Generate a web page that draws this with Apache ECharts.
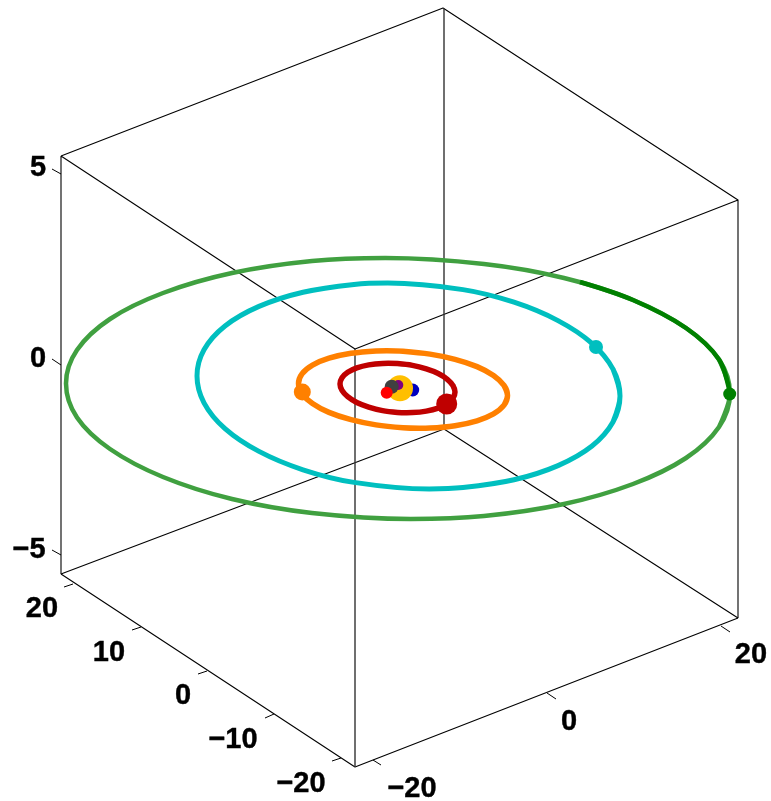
<!DOCTYPE html>
<html>
<head>
<meta charset="utf-8">
<script src="https://cdn.jsdelivr.net/npm/echarts@6/dist/echarts.min.js"></script>
<style>html,body{margin:0;padding:0;background:#fff}#c{width:771px;height:801px}</style>
</head>
<body>
<div id="c"></div>
<script>
const boxFront = [[61,156],[443,8],[738,200],[355,349],[61,156],null,[61,574],[355,767],[738,618],null,[61,156],[61,574],null,[738,200],[738,618]];
const boxBack = [[61,574],[444,429],[738,618]];
const boxInner = [[355,349],[355,767],null,[444,8],[444,429]];
const zTicks = [[[52,169],[61,174]],[[52,359],[61,365]],[[52,550],[61,555]]];
const yTicks = [[[64,587],[73,584]],[[132,630],[141,627]],[[198,674],[207,671]],[[265,718],[274,714]],[[332,761],[341,758]]];
const xTicks = [[[373,760],[381,765]],[[547,693],[556,699]],[[721,626],[730,632]]];
const zTickLabels = [['5',38,168],['0',38,359],['\u22125',29,550]];
const yTickLabels = [['20',42,609],['10',109,653],['0',183,696],['\u221210',233,740],['\u221220',301,784]];
const xTickLabels = [['\u221220',412,789],['0',569,722],['20',751,655]];

const greenOrbit = [[719,359.5],[730,393.5],[719,427],[686,458],[633,484],[564,504],[484,516],[410.7,519],[312,513],[232,499],[163,477],[110,449],[77,417.5],[66,383.5],[77,350],[110,319],[163,293],[232,273],[312,261],[385.3,258],[484,264],[564,278],[633,300],[686,328],[719,359.5],[730,393.5],[719,427]];
const greenTrail = [[730,393.5],[719,359.5],[686,328],[633,300],[580,282]];
const cyanOrbit = [[613,369.2],[620,396],[613,422],[592,446],[558,465.6],[514,479.8],[463,487.6],[429.2,489],[354,482.4],[303,469.8],[259,451.4],[225,428.6],[204,402.8],[197,376],[204,349.8],[225,326],[259,306.4],[303,292.2],[354,284.4],[387.8,283],[463,289.6],[514,302.2],[558,320.6],[592,343.4],[613,369.2],[620,396],[613,422]];
const orangeOrbit = [[504,385.4],[507.5,395.5],[504,405.2],[493.5,413.9],[477,420.8],[455,425.7],[430,428.1],[419.2,428.3],[403,427.8],[376,424.9],[351,419.7],[329,412.4],[312.5,403.5],[302,393.6],[298.5,383.5],[302,373.8],[312.5,365.1],[329,358.2],[351,353.3],[376,350.9],[386.8,350.7],[403,351.2],[430,354.1],[455,359.3],[477,366.6],[493.5,375.5],[504,385.4],[507.5,395.5],[504,405.2]];
const redOrbit = [[453,385.6],[455,392],[453,398.2],[447.3,403.7],[438.2,408.1],[426.3,411.1],[412.4,412.6],[406.8,412.7],[397.5,412.4],[382.6,410.6],[368.7,407.1],[356.8,402.5],[347.7,396.7],[342,390.4],[340,384],[342,377.8],[347.7,372.3],[356.8,367.9],[368.7,364.9],[382.6,363.4],[388.2,363.3],[397.5,363.6],[412.4,365.4],[426.3,368.9],[438.2,373.5],[447.3,379.3],[453,385.6],[455,392],[453,398.2]];

const neptunePos = [729.7,394];
const uranusPos = [596,347];
const saturnPos = [302.3,392];
const jupiterPos = [446.7,404];
const earthPos = [412.7,390];
const sunPos = [400,388.3];
const venusPos = [398.3,385];
const mercuryPos = [391.7,386.7];
const marsPos = [386.7,392.7];

const line = (data, color, width, z, smooth) => ({
  type: 'line', data, z, smooth: smooth ? 0.33 : false, showSymbol: false, symbol: 'none',
  connectNulls: false, silent: true, animation: false,
  lineStyle: {color, width, cap: 'butt', join: 'round'}
});
const nulled = d => d.map(p => p === null ? ['-','-'] : p);
const ticks = t => { const o = []; t.forEach((s,i)=>{ if(i) o.push(['-','-']); o.push(s[0],s[1]); }); return o; };
const dot = (pos, color, size, z) => ({
  type: 'scatter', data: [pos], symbol: 'circle', symbolSize: size, z, silent: true, animation: false,
  itemStyle: {color, opacity: 1}
});
const labels = arr => ({
  type: 'scatter', data: arr.map(a => ({value: [a[1], a[2]], name: a[0]})), symbolSize: 1, z: 20, silent: true, animation: false,
  itemStyle: {color: 'rgba(0,0,0,0)', opacity: 1},
  label: {show: true, position: 'inside', formatter: p => p.name, color: '#000', opacity: 1,
    textBorderColor: '#000', textBorderWidth: 0.4,
    fontFamily: '"Liberation Sans", Arial, sans-serif', fontWeight: 'bold', fontSize: 29}
});

const chart = echarts.init(document.getElementById('c'), null, {renderer: 'canvas'});
chart.setOption({
  animation: false, backgroundColor: '#fff',
  grid: {left: 0, right: 0, top: 0, bottom: 0},
  xAxis: {type: 'value', min: 0, max: 771, show: false},
  yAxis: {type: 'value', min: 0, max: 801, inverse: true, show: false},
  series: [
    line(nulled(boxFront), '#000', 1.1, 1),
    line(boxBack, '#000', 1.1, 1),
    line(nulled(boxInner), '#333', 1.4, 1),
    line(ticks(zTicks), '#000', 1, 1),
    line(ticks(yTicks), '#000', 1, 1),
    line(ticks(xTicks), '#000', 1, 1),
    line(greenOrbit, '#40a040', 4.5, 3, true),
    line(greenTrail, '#008000', 4.5, 4, true),
    line(cyanOrbit, '#00bfbf', 5, 3, true),
    line(orangeOrbit, '#ff8000', 5.5, 3, true),
    line(redOrbit, '#bf0000', 5.5, 3, true),
    dot(neptunePos, '#008000', 13, 6),
    dot(uranusPos, '#00bfbf', 14, 6),
    dot(saturnPos, '#ff8000', 17, 6),
    dot(jupiterPos, '#bf0000', 21, 6),
    dot(earthPos, '#0000bf', 13, 6),
    dot(sunPos, '#ffbf00', 26, 7),
    dot(venusPos, '#7f007f', 10, 8),
    dot(mercuryPos, '#404040', 14, 9),
    dot(marsPos, '#ff0000', 12, 10),
    labels(zTickLabels), labels(yTickLabels), labels(xTickLabels)
  ]
});
</script>
</body>
</html>
